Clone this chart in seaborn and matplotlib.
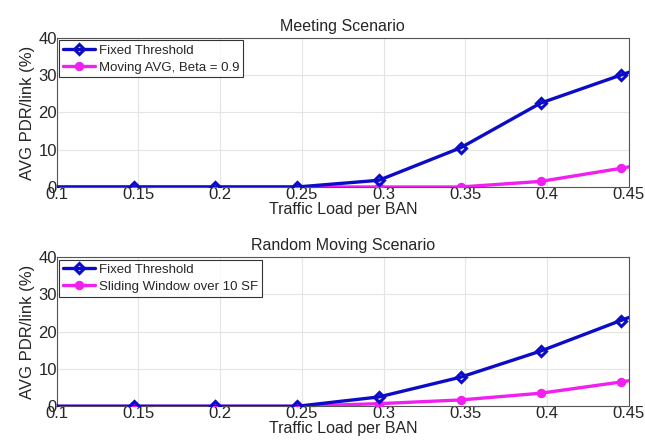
import numpy as np
import pandas as pd
import matplotlib
matplotlib.use("Agg")
import matplotlib.pyplot as plt
import seaborn as sns

# traffic load per BAN (points sit slightly left of the ticks, one extra point past the axis)
load = [0.097, 0.147, 0.197, 0.247, 0.297, 0.347, 0.396, 0.445, 0.495]

# Meeting scenario
meet_fixed = [0, 0, 0, 0, 1.8, 10.5, 22.5, 30, 37.5]
meet_avg = [0, 0, 0, 0, 0, 0, 1.5, 5, 9]

# Random moving scenario
rand_fixed = [0, 0, 0, 0, 2.5, 7.8, 14.8, 23, 31]
rand_window = [0, 0, 0, 0, 0.7, 1.7, 3.5, 6.5, 10]

xticks = [0.1, 0.15, 0.2, 0.25, 0.3, 0.35, 0.4, 0.45]
xticklabels = ["0.1", "0.15", "0.2", "0.25", "0.3", "0.35", "0.4", "0.45"]
yticks = [0, 10, 20, 30, 40]

sns.set_style("white")
plt.rcParams['font.family'] = ['Liberation Sans', 'DejaVu Sans']

blue = '#0c0cc8'
magenta = '#f020f0'

fig, axes = plt.subplots(2, 1, figsize=(6.45, 4.45), dpi=100)

panels = [
    (axes[0], "Meeting Scenario", meet_fixed, meet_avg, "Moving AVG, Beta = 0.9"),
    (axes[1], "Random Moving Scenario", rand_fixed, rand_window, "Sliding Window over 10 SF"),
]

for ax, title, fixed, other, other_name in panels:
    df = pd.DataFrame({'load': load, 'fixed': fixed, 'other': other})
    sns.lineplot(data=df, x='load', y='fixed', ax=ax, color=blue, linewidth=2.4,
                 marker='D', markersize=5.5, markerfacecolor='none', markeredgecolor=blue,
                 markeredgewidth=2.2, label="Fixed Threshold", zorder=4)
    sns.lineplot(data=df, x='load', y='other', ax=ax, color=magenta, linewidth=2.4,
                 marker='o', markersize=6, markerfacecolor=magenta, markeredgecolor=magenta,
                 label=other_name, zorder=3)
    ax.set_xlim(0.1, 0.45)
    ax.set_ylim(0, 40)
    ax.set_xticks(xticks)
    ax.set_xticklabels(xticklabels)
    ax.set_yticks(yticks)
    ax.tick_params(labelsize=12, pad=0, length=3, direction='in')
    ax.grid(True, color='#e4e4e4', linewidth=0.8)
    for s in ax.spines.values():
        s.set_color('#555555')
        s.set_linewidth(0.8)
    ax.set_title(title, fontsize=11.5, pad=5)
    ax.set_xlabel("Traffic Load per BAN", fontsize=11.5, labelpad=0)
    ax.set_ylabel("AVG PDR/link (%)", fontsize=12, labelpad=2)
    leg = ax.legend(loc='upper left', fontsize=9.5, frameon=True, fancybox=False,
                    borderaxespad=0.2, handlelength=2.4, handletextpad=0.3,
                    borderpad=0.3, labelspacing=0.35)
    leg.get_frame().set_edgecolor('black')
    leg.get_frame().set_linewidth(0.8)

fig.subplots_adjust(left=0.088, right=0.975, top=0.915, bottom=0.087, hspace=0.47)
fig.savefig("out.png", dpi=100)
